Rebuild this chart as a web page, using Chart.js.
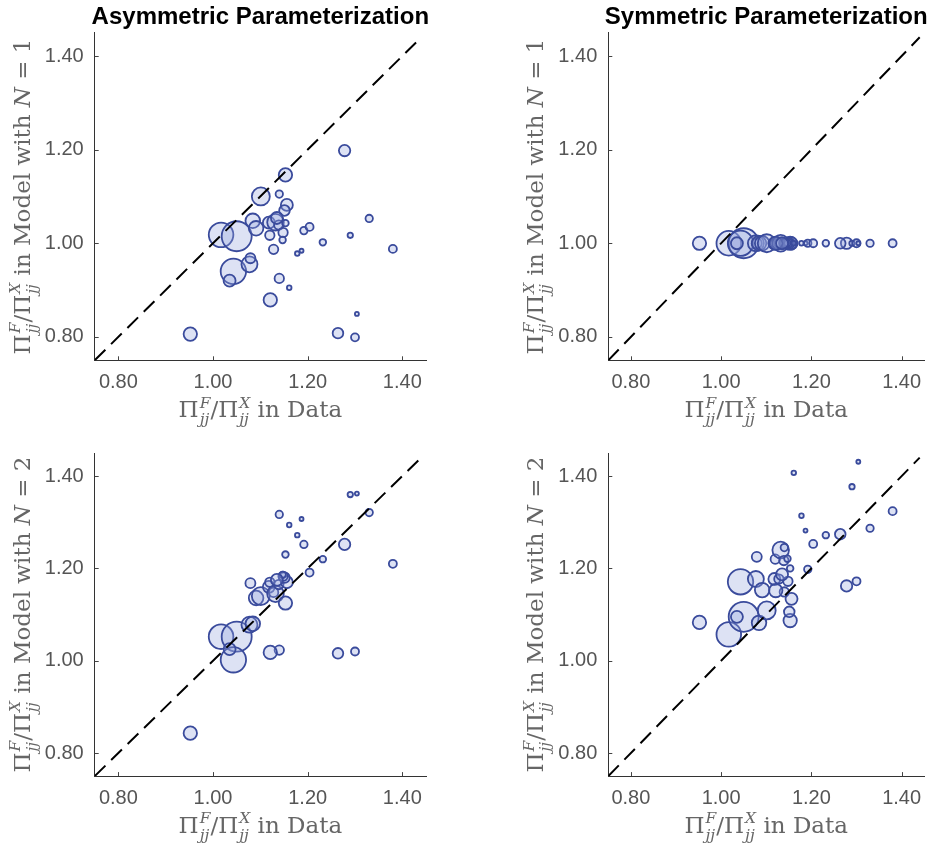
<!DOCTYPE html>
<html>
<head>
<meta charset="utf-8">
<script src="https://cdn.jsdelivr.net/npm/chart.js@4.4.1/dist/chart.umd.min.js"></script>
<style>
  html, body { margin: 0; padding: 0; background: #fff; }
  #wrap { position: relative; width: 941px; height: 847px; overflow: hidden; }
  canvas { position: absolute; }
</style>
</head>
<body>
<div id="wrap">
  <canvas id="c1" width="470" height="430" style="left:0;top:0"></canvas>
  <canvas id="c2" width="471" height="430" style="left:470px;top:0"></canvas>
  <canvas id="c3" width="470" height="417" style="left:0;top:430px"></canvas>
  <canvas id="c4" width="471" height="417" style="left:470px;top:430px"></canvas>
</div>
<script>
/* ── Data ── */
// Π^F/Π^X in data, shared by all four panels
const dataRatio = [0.952, 1.017, 1.050, 1.043, 1.035, 1.077, 1.079, 1.084, 1.091, 1.101,
                   1.118, 1.120, 1.128, 1.132, 1.139, 1.140, 1.153, 1.156, 1.151, 1.153,
                   1.148, 1.147, 1.140, 1.161, 1.121, 1.178, 1.187, 1.192, 1.204, 1.232,
                   1.278, 1.290, 1.330, 1.380, 1.264, 1.300, 1.304, 1.135];
// bubble radius (px)
const bubbleSize = [6.7, 12.3, 15, 12.7, 6, 8, 5, 7.3, 7.3, 9,
                    6, 4.7, 4.7, 8.3, 4.7, 3.7, 6.7, 6, 5.3, 3.3,
                    4.7, 3.3, 4.7, 2.3, 6.7, 2.3, 2, 3.7, 4, 3.3,
                    5.7, 2.7, 3.7, 4, 5.3, 4, 2, 6];
const asymN1 = [0.806, 1.018, 1.015, 0.940, 0.920, 0.955, 0.968, 1.048, 1.032, 1.100,
                1.044, 1.017, 0.987, 1.045, 1.039, 1.105, 1.146, 1.082, 1.070, 1.043,
                1.023, 1.007, 0.925, 0.905, 0.879, 0.978, 0.984, 1.027, 1.035, 1.002,
                1.198, 1.017, 1.053, 0.988, 0.808, 0.799, 0.849, 1.054];
const symN1 = [1.00, 1.00, 1.00, 1.00, 1.00, 1.00, 1.00, 1.00, 1.00, 1.00,
               1.00, 1.00, 1.00, 1.00, 1.00, 1.00, 1.00, 1.00, 1.00, 1.00,
               1.00, 1.00, 1.00, 1.00, 1.00, 1.00, 1.00, 1.00, 1.00, 1.00,
               1.00, 1.00, 1.00, 1.00, 1.00, 1.00, 1.00, 1.00];
const asymN2 = [0.843, 1.052, 1.052, 1.002, 1.025, 1.078, 1.168, 1.080, 1.136, 1.140,
                1.160, 1.170, 1.148, 1.145, 1.165, 1.317, 1.125, 1.170, 1.180, 1.230,
                1.183, 1.186, 1.023, 1.294, 1.018, 1.272, 1.307, 1.252, 1.191, 1.220,
                1.252, 1.360, 1.321, 1.210, 1.016, 1.020, 1.362, 1.175];
const symN2 = [1.083, 1.057, 1.095, 1.171, 1.095, 1.177, 1.225, 1.082, 1.153, 1.109,
               1.177, 1.220, 1.177, 1.240, 1.217, 1.245, 1.087, 1.134, 1.106, 1.200,
               1.172, 1.221, 1.149, 1.407, 1.152, 1.314, 1.282, 1.198, 1.253, 1.272,
               1.162, 1.377, 1.287, 1.324, 1.274, 1.172, 1.431, 1.187];
const tickValues = [0.80, 1.00, 1.20, 1.40];
const axisRange = [0.75, 1.45];
const diagonal = [0.75, 1.44];
const panelTitles = ['Asymmetric Parameterization', 'Symmetric Parameterization'];

/* ── Look ── */
const SANS = '"Liberation Sans", Arial, sans-serif';
const SERIF = '"DejaVu Serif", "Liberation Serif", serif';
const EDGE = '#3a4b9c';
const FILL = 'rgba(150,165,220,0.32)';

/* ── Math-ish axis labels drawn as canvas text ── */
const piFrac = () => [{ t: 'Π' }, { sup: 'F', sub: 'jj' }, { t: '/' }, { t: 'Π' }, { sup: 'X', sub: 'jj' }];
const xLabelParts = [...piFrac(), { t: ' in Data' }];
const yLabelParts = n => [...piFrac(), { t: ' in Model with ' }, { t: 'N', it: true }, { t: ' = ' + n }];

function drawMath(ctx, parts, cx, cy, rotate) {
  const S = 23, s = 15.5;
  const big = it => (it ? 'italic ' : '') + S + 'px ' + SERIF;
  const small = 'italic ' + s + 'px ' + SERIF;
  const widths = parts.map(p => {
    if (p.t !== undefined) { ctx.font = big(p.it); return ctx.measureText(p.t).width; }
    ctx.font = small;
    return Math.max(ctx.measureText(p.sup).width, ctx.measureText(p.sub).width) + 1;
  });
  const total = widths.reduce((a, b) => a + b, 0);
  ctx.save();
  ctx.translate(cx, cy);
  if (rotate) ctx.rotate(-Math.PI / 2);
  ctx.fillStyle = '#666';
  ctx.textAlign = 'left';
  ctx.textBaseline = 'alphabetic';
  let x = -total / 2;
  const base = S * 0.3;
  parts.forEach((p, i) => {
    if (p.t !== undefined) {
      ctx.font = big(p.it);
      ctx.fillText(p.t, x, base);
    } else {
      ctx.font = small;
      ctx.fillText(p.sup, x + 1, base - S * 0.42);
      ctx.fillText(p.sub, x + 1, base + S * 0.3);
    }
    x += widths[i];
  });
  ctx.restore();
}

const decor = {
  id: 'decor',
  afterDraw(chart, args, opts) {
    const { ctx, chartArea: a, scales: { x, y } } = chart;
    ctx.save();
    // short inward tick marks
    ctx.strokeStyle = '#444';
    ctx.lineWidth = 1;
    tickValues.forEach(v => {
      const px = Math.round(x.getPixelForValue(v)) + 0.5;
      ctx.beginPath(); ctx.moveTo(px, a.bottom); ctx.lineTo(px, a.bottom - 4); ctx.stroke();
      const py = Math.round(y.getPixelForValue(v)) + 0.5;
      ctx.beginPath(); ctx.moveTo(a.left, py); ctx.lineTo(a.left + 4, py); ctx.stroke();
    });
    if (opts.title) {
      ctx.fillStyle = '#000';
      ctx.font = 'bold 24px ' + SANS;
      ctx.textAlign = 'center';
      ctx.textBaseline = 'middle';
      ctx.fillText(opts.title, (a.left + a.right) / 2, 17);
    }
    ctx.restore();
    drawMath(ctx, xLabelParts, (a.left + a.right) / 2, a.bottom + 50, false);
    drawMath(ctx, yLabelParts(opts.n), a.left - 72, (a.top + a.bottom) / 2, true);
  }
};

function makePanel(id, ys, box, title, n) {
  const canvas = document.getElementById(id);
  const W = canvas.width, H = canvas.height;
  const bubbles = dataRatio.map((x, i) => ({ x: x, y: ys[i], r: bubbleSize[i] }));
  const axis = (side) => ({
    type: 'linear',
    min: axisRange[0], max: axisRange[1],
    afterBuildTicks: s => { s.ticks = tickValues.map(v => ({ value: v })); },
    afterFit: s => { if (side === 'x') s.height = H - box.b; else s.width = box.l; },
    grid: { display: false, drawTicks: false },
    border: { display: true, color: '#333', width: 1 },
    ticks: {
      padding: side === 'x' ? 10 : 11,
      color: '#555',
      font: { family: SANS, size: 20 },
      maxRotation: 0, autoSkip: false,
      callback: v => Number(v).toFixed(2)
    }
  });
  return new Chart(canvas, {
    type: 'bubble',
    data: {
      datasets: [
        {
          type: 'line',
          data: diagonal.map(v => ({ x: v, y: v })),
          borderColor: '#000', borderWidth: 2, borderDash: [15, 8],
          pointRadius: 0, fill: false, order: 0
        },
        {
          data: bubbles,
          backgroundColor: FILL, borderColor: EDGE, borderWidth: 1.8,
          order: 1
        }
      ]
    },
    options: {
      responsive: false,
      animation: false,
      events: [],
      layout: { padding: { left: 0, top: box.t, right: W - box.r, bottom: 0 } },
      scales: { x: axis('x'), y: axis('y') },
      plugins: {
        legend: { display: false },
        tooltip: { enabled: false },
        decor: { title: title, n: n }
      }
    },
    plugins: [decor]
  });
}

makePanel('c1', asymN1, { l: 94.7, r: 426, t: 32.6, b: 360.3 }, panelTitles[0], 1);
makePanel('c2', symN1,  { l: 138.3, r: 469.6, t: 32.6, b: 360.3 }, panelTitles[1], 1);
makePanel('c3', asymN2, { l: 94.7, r: 426, t: 18.9, b: 346.1 }, null, 2);
makePanel('c4', symN2,  { l: 138.3, r: 469.6, t: 18.9, b: 346.1 }, null, 2);
</script>
</body>
</html>
